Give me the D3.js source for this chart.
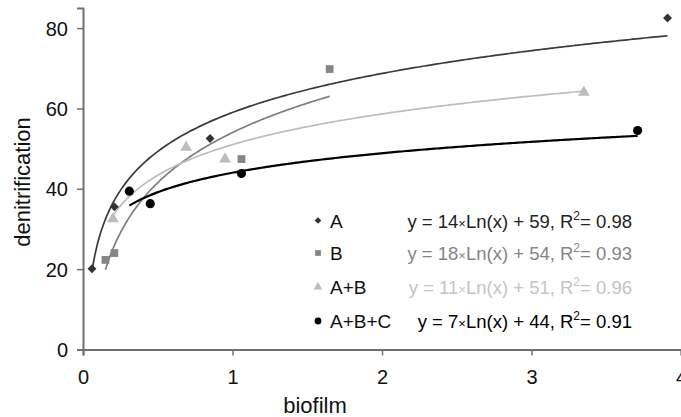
<!DOCTYPE html>
<html>
<head>
<meta charset="utf-8">
<script src="https://cdn.jsdelivr.net/npm/d3@7"></script>
<style>
  body { margin: 0; background: #fff; }
  svg { font-family: "Liberation Sans", Arial, sans-serif; }
</style>
</head>
<body>
<div id="chart"></div>
<script>
// series names
var seriesNames = ['A', 'B', 'A+B', 'A+B+C'];

// measured points (biofilm, denitrification)
var biofilmA = [0.06, 0.21, 0.85, 3.91];
var denitA   = [20.1, 35.5, 52.5, 82.5];
var biofilmB = [0.15, 0.21, 1.06, 1.65];
var denitB   = [22.3, 24.0, 47.4, 69.8];
var biofilmAB = [0.20, 0.69, 0.95, 3.35];
var denitAB   = [32.5, 50.3, 47.4, 64.0];
var biofilmABC = [0.31, 0.45, 1.06, 3.71];
var denitABC   = [39.4, 36.3, 43.8, 54.5];

// log fits y = a*Ln(x) + b as printed in the legend
var fitSlope = [14, 18, 11, 7];
var fitIntercept = [59, 54, 51, 44];
var fitLabels = [
  ['y = 14', 'Ln(x) + 59, R', '= 0.98'],
  ['y = 18', 'Ln(x) + 54, R', '= 0.93'],
  ['y = 11', 'Ln(x) + 51, R', '= 0.96'],
  ['y = 7', 'Ln(x) + 44, R', '= 0.91']
];

var xTicks = [0, 1, 2, 3, 4];
var yTicks = [0, 20, 40, 60, 80];

var width = 681, height = 417;
var margin = { top: 8, right: 0, bottom: 67, left: 83 };

var svg = d3.select('#chart').append('svg')
  .attr('width', width)
  .attr('height', height);

var x = d3.scaleLinear().domain([0, 4]).range([margin.left, width - margin.right]);
var y = d3.scaleLinear().domain([0, 85]).range([height - margin.bottom - 0.5, margin.top]);

var axisColor = '#707070';

// axes
var xAxis = svg.append('g')
  .attr('transform', `translate(0, ${y(0)})`)
  .call(d3.axisBottom(x).tickValues(xTicks).tickFormat(d3.format('d')).tickSizeOuter(0).tickSize(6).tickPadding(14));
var yAxis = svg.append('g')
  .attr('transform', `translate(${x(0)}, 0)`)
  .call(d3.axisLeft(y).tickValues(yTicks).tickSizeOuter(0).tickSize(6).tickPadding(9));

[xAxis, yAxis].forEach(function(ax) {
  ax.select('.domain').attr('stroke', axisColor).attr('stroke-width', 2);
  ax.selectAll('.tick line').attr('stroke', axisColor).attr('stroke-width', 1.5);
  ax.selectAll('.tick text')
    .attr('fill', '#111')
    .style('font-size', '20px')
    .style('font-family', '"Liberation Sans", Arial, sans-serif');
});
yAxis.selectAll('.tick text').attr('dy', '0.36em');

// axis titles
svg.append('text')
  .attr('x', 315)
  .attr('y', 413)
  .attr('text-anchor', 'middle')
  .style('font-size', '22px')
  .attr('fill', '#111')
  .text('biofilm');

svg.append('text')
  .attr('transform', 'translate(30, 182) rotate(-90)')
  .attr('text-anchor', 'middle')
  .style('font-size', '22px')
  .attr('fill', '#111')
  .text('denitrification');

var series = [
  { xs: biofilmA, ys: denitA, color: '#333333', line: '#3a3a3a', lw: 1.7, shape: 'diamond' },
  { xs: biofilmB, ys: denitB, color: '#858585', line: '#7d7d7d', lw: 1.7, shape: 'square' },
  { xs: biofilmAB, ys: denitAB, color: '#bdbdbd', line: '#bdbdbd', lw: 1.7, shape: 'triangle' },
  { xs: biofilmABC, ys: denitABC, color: '#000000', line: '#000000', lw: 2.2, shape: 'circle' }
];

function symbolPath(shape, scale) {
  if (shape === 'diamond') return d3.symbol().type(d3.symbolSquare).size(40 * scale)();
  if (shape === 'square') return d3.symbol().type(d3.symbolSquare).size(60 * scale)();
  if (shape === 'triangle') return d3.symbol().type(d3.symbolTriangle).size(60 * scale)();
  return d3.symbol().type(d3.symbolCircle).size(66 * scale)();
}

var line = d3.line()
  .x(d => x(d[0]))
  .y(d => y(d[1]))
  .curve(d3.curveLinear);

series.forEach(function(s, i) {
  var lo = d3.min(s.xs), hi = d3.max(s.xs);
  var xs = d3.range(0, 201).map(k => lo + (hi - lo) * k / 200);
  var pts = xs.map(v => [v, fitSlope[i] * Math.log(v) + fitIntercept[i]]);

  svg.append('path')
    .datum(pts)
    .attr('d', line)
    .attr('fill', 'none')
    .attr('stroke', s.line)
    .attr('stroke-width', s.lw);
});

// markers on top
series.forEach(function(s, i) {
  var data = s.xs.map((v, k) => [v, s.ys[k]]);
  svg.append('g').selectAll('path')
    .data(data)
    .enter()
    .append('path')
    .attr('d', symbolPath(s.shape, 1))
    .attr('transform', d => `translate(${x(d[0])}, ${y(d[1])})` + (s.shape === 'diamond' ? ' rotate(45)' : ''))
    .attr('fill', s.color);
});

// legend
var legendY = [220.5, 253, 287, 321];
var eqColors = ['#222222', '#858585', '#c4c4c4', '#000000'];
series.forEach(function(s, i) {
  var g = svg.append('g').attr('transform', `translate(318, ${legendY[i]})`);
  g.append('path')
    .attr('d', symbolPath(s.shape, 0.55))
    .attr('transform', s.shape === 'diamond' ? 'rotate(45)' : null)
    .attr('fill', s.color);
  g.append('text')
    .attr('x', 12)
    .attr('y', 7)
    .style('font-size', '19px')
    .attr('fill', '#111')
    .text(seriesNames[i]);

  var t = g.append('text')
    .attr('x', 632 - 318)
    .attr('y', 7)
    .attr('text-anchor', 'end')
    .style('font-size', '18.5px')
    .attr('fill', eqColors[i]);
  t.append('tspan').text(fitLabels[i][0]);
  t.append('tspan').style('font-size', '13px').text('\u00d7');
  t.append('tspan').text(fitLabels[i][1]);
  t.append('tspan').attr('dy', -8).style('font-size', '12px').text('2');
  t.append('tspan').attr('dy', 8).text(fitLabels[i][2]);
});
</script>
</body>
</html>
